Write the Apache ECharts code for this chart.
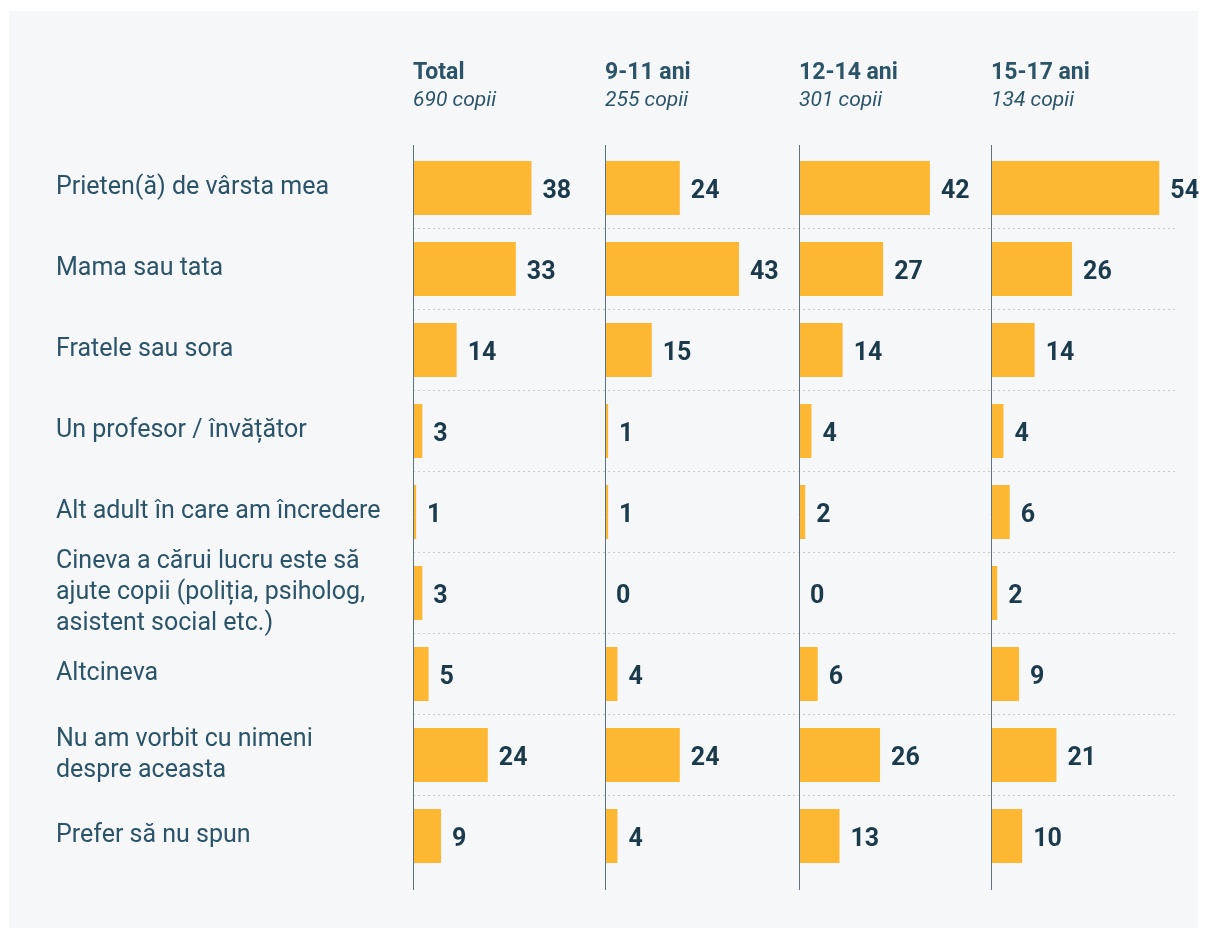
<!DOCTYPE html>
<html><head><meta charset="utf-8">
<script src="https://cdn.jsdelivr.net/npm/echarts@6/dist/echarts.min.js"></script>
<style>html,body{margin:0;padding:0;background:#fff;}#c{width:1208px;height:938px;}</style>
</head><body><div id="c"></div>
<script>
const categories = [
  'Prieten(ă) de vârsta mea',
  'Mama sau tata',
  'Fratele sau sora',
  'Un profesor / învățător',
  'Alt adult în care am încredere',
  'Cineva a cărui lucru este să\najute copii (poliția, psiholog,\nasistent social etc.)',
  'Altcineva',
  'Nu am vorbit cu nimeni\ndespre aceasta',
  'Prefer să nu spun'
];
const groups = ['Total', '9-11 ani', '12-14 ani', '15-17 ani'];
const groupCounts = ['690 copii', '255 copii', '301 copii', '134 copii'];
const totalValues = [38, 33, 14, 3, 1, 3, 5, 24, 9];
const age9to11 = [24, 43, 15, 1, 1, 0, 4, 24, 4];
const age12to14 = [42, 27, 14, 4, 2, 0, 6, 26, 13];
const age15to17 = [54, 26, 14, 4, 6, 2, 9, 21, 10];
const seriesValues = [totalValues, age9to11, age12to14, age15to17];

const gridLefts = [413, 605, 799, 991];
const gridW = 187, gridTop = 147.5, gridH = 729;
const font = 'Roboto, "Noto Sans", sans-serif';

const chart = echarts.init(document.getElementById('c'), null, {renderer: 'canvas'});

const grids = [], xAxes = [], yAxes = [], series = [], titles = [];
// background grid for dotted separators
grids.push({left: 413, top: gridTop, width: 1176 - 413, height: gridH});
xAxes.push({gridIndex: 0, type: 'value', show: false, min: 0, max: 1});
yAxes.push({gridIndex: 0, type: 'category', inverse: true, data: categories,
  axisLine: {show: false}, axisTick: {show: false}, axisLabel: {show: false},
  splitLine: {show: true, showMinLine: false, showMaxLine: false,
    lineStyle: {color: '#c3ccd3', type: [2, 3], width: 1}}});
series.push({type: 'bar', xAxisIndex: 0, yAxisIndex: 0, data: [], silent: true});

groups.forEach((g, i) => {
  const gi = i + 1;
  grids.push({left: gridLefts[i], top: gridTop, width: gridW, height: gridH});
  xAxes.push({gridIndex: gi, type: 'value', min: 0, max: 60, show: false});
  yAxes.push({gridIndex: gi, type: 'category', inverse: true, data: categories,
    axisLine: {show: false}, axisTick: {show: false},
    splitLine: {show: false},
    axisLabel: i === 0 ? {show: true, align: 'left', margin: 413 - 56,
      color: '#2c5468', fontSize: 25, fontFamily: font, lineHeight: 31,
      padding: [0, 0, 8, 0]} : {show: false}});
  series.push({type: 'bar', xAxisIndex: gi, yAxisIndex: gi, data: seriesValues[i],
    barWidth: 54, itemStyle: {color: '#fdb732'},
    label: {show: true, position: 'right', distance: 11, offset: [0, 4],
      color: '#1b3a4b', fontSize: 25, fontWeight: 'bold', fontFamily: font},
    silent: true, animation: false});
  titles.push({text: g, subtext: groupCounts[i], left: gridLefts[i], top: 59, padding: 0, itemGap: 2,
    textStyle: {color: '#2c5468', fontSize: 23, fontWeight: 'bold', fontFamily: font, lineHeight: 28},
    subtextStyle: {color: '#2c5468', fontSize: 21, fontStyle: 'italic', fontFamily: font, lineHeight: 24}});
});

const graphics = [{type: 'rect', shape: {x: 9, y: 11, width: 1189, height: 917}, style: {fill: '#f5f7f9'}, z: -10, silent: true}];
gridLefts.forEach(x => {
  graphics.push({type: 'line', shape: {x1: x + 0.5, y1: 145, x2: x + 0.5, y2: 890},
    style: {stroke: '#5c7282', lineWidth: 1}, z: 10, silent: true});
});

chart.setOption({
  backgroundColor: '#ffffff',
  animation: false,
  title: titles,
  grid: grids,
  xAxis: xAxes,
  yAxis: yAxes,
  series: series,
  graphic: graphics
});
</script></body></html>
